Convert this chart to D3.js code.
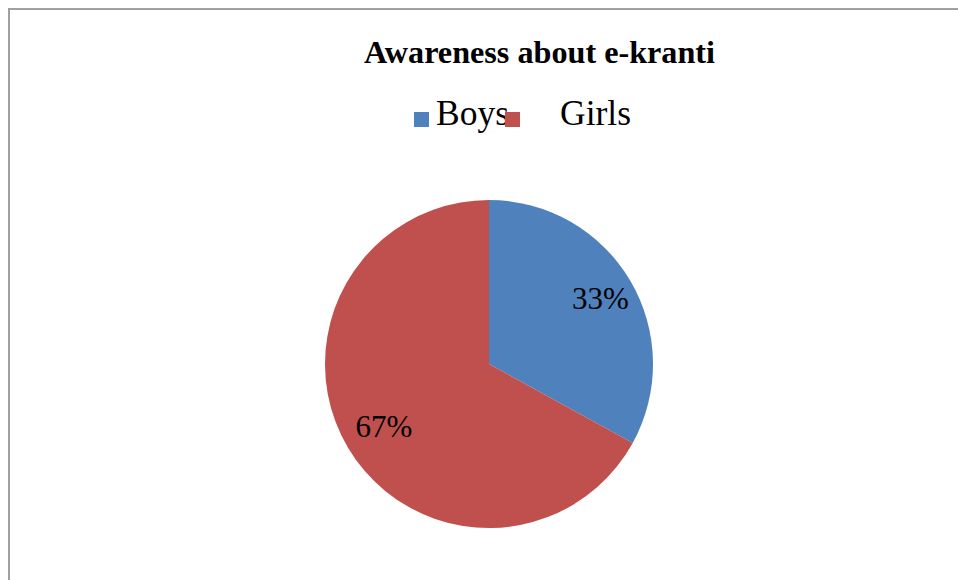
<!DOCTYPE html>
<html>
<head>
<meta charset="utf-8">
<script src="https://cdn.jsdelivr.net/npm/d3@7"></script>
<style>
html,body{margin:0;padding:0;background:#fff;}
svg{display:block;}
</style>
</head>
<body>
<svg id="chart" width="958" height="580"></svg>
<script>
const title = "Awareness about e-kranti";
const categories = ["Boys", "Girls"];
const values = [33, 67];
const labels = ["33%", "67%"];
const colors = ["#4F81BD", "#C0504D"];

const svg = d3.select("#chart");
const W = 958, H = 580;

svg.append("rect").attr("x", 0).attr("y", 0).attr("width", W).attr("height", H).attr("fill", "#fff");
// chart border (extends past right/bottom edges)
svg.append("rect").attr("x", 9).attr("y", 9).attr("width", W + 20).attr("height", H + 20)
  .attr("fill", "none").attr("stroke", "#a0a0a0").attr("stroke-width", 2);

svg.append("text").attr("x", 539.5).attr("y", 63)
  .attr("text-anchor", "middle")
  .attr("font-family", "'Liberation Serif','Times New Roman',serif")
  .attr("font-weight", "bold").attr("font-size", 32.2)
  .attr("fill", "#000").text(title);

// legend
const legSquareX = [414, 505];
const legTextX = [436, 560];
const leg = svg.append("g");
categories.forEach((c, i) => {
  leg.append("rect").attr("x", legSquareX[i]).attr("y", 112).attr("width", 15).attr("height", 15).attr("fill", colors[i]);
  leg.append("text").attr("x", legTextX[i]).attr("y", 125)
    .attr("font-family", "'Liberation Serif','Times New Roman',serif")
    .attr("font-size", 35.5).attr("fill", "#000").text(c);
});
// red square drawn over the end of the Boys text (as in reference)
leg.append("rect").attr("x", legSquareX[1]).attr("y", 112).attr("width", 15).attr("height", 15).attr("fill", colors[1]);

const cx = 489, cy = 364, r = 164;
const labelRadius = [0.79, 0.745];
const pie = d3.pie().sort(null).value(d => d)(values);
const arc = d3.arc().innerRadius(0).outerRadius(r);
const g = svg.append("g").attr("transform", `translate(${cx},${cy})`);
g.selectAll("path").data(pie).enter().append("path")
  .attr("d", arc).attr("fill", (d, i) => colors[i]);
g.selectAll("text.lbl").data(pie).enter().append("text")
  .attr("class", "lbl")
  .attr("transform", (d, i) => {
    const la = d3.arc().innerRadius(r * labelRadius[i]).outerRadius(r * labelRadius[i]);
    const [x, y] = la.centroid(d); return `translate(${x},${y})`;
  })
  .attr("text-anchor", "middle").attr("dy", "0.35em")
  .attr("font-family", "'Liberation Serif','Times New Roman',serif")
  .attr("font-size", 31).attr("fill", "#000")
  .text((d, i) => labels[i]);
</script>
</body>
</html>
